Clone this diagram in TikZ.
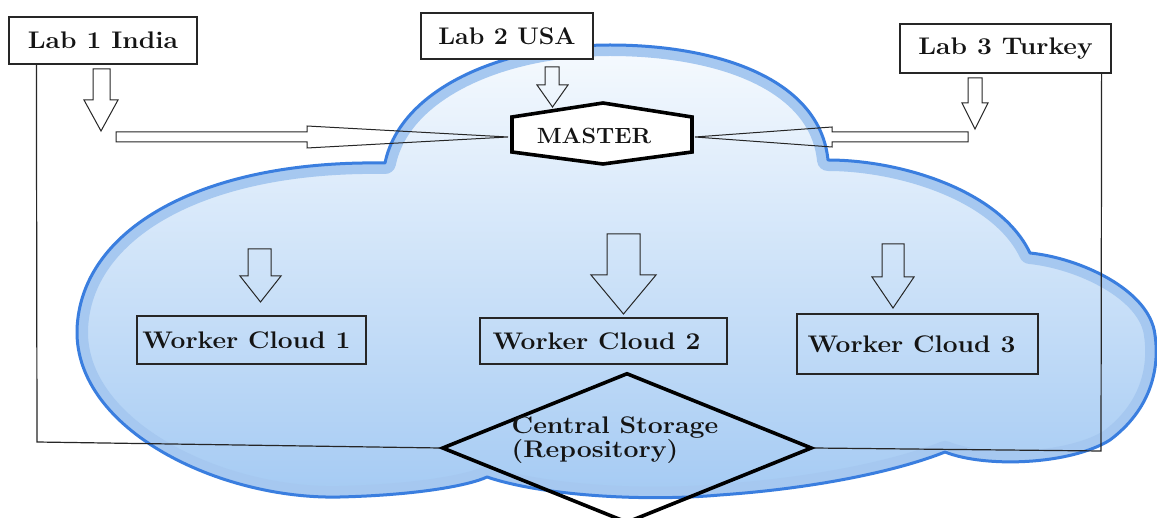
\documentclass[tikz,border=0pt]{standalone}
\usepackage{fontspec}
\usepackage{graphicx}
\usetikzlibrary{shapes.geometric}

\definecolor{cloudedge}{HTML}{3A7EDF}
\definecolor{cloudband}{HTML}{A6C8F0}
\definecolor{cloudtop}{HTML}{F6FAFE}
\definecolor{cloudmid}{HTML}{D3E6F9}
\definecolor{cloudbot}{HTML}{A4CAF3}
\definecolor{ink}{HTML}{141414}
\definecolor{linegray}{HTML}{262626}

% outline of the cloud (pixel-like units, y grows downwards)
\newcommand{\cloudpath}{(385,163)
  .. controls (200,160) and (80,230) .. (77,330)
  .. controls (75,430) and (220,500) .. (340,497)
  .. controls (420,495) and (470,485) .. (487,477)
  .. controls (540,495) and (640,502) .. (720,495)
  .. controls (820,488) and (900,470) .. (945,452)
  .. controls (985,468) and (1070,465) .. (1110,440)
  .. controls (1150,410) and (1160,370) .. (1155,335)
  .. controls (1150,290) and (1080,258) .. (1030,253)
  .. controls (1000,190) and (900,160) .. (828,160)
  .. controls (820,80) and (720,45) .. (610,45)
  .. controls (500,45) and (400,90) .. (385,163) -- cycle}

% hollow block arrow pointing down:
% shaft x-range, shaft top, head base, head x-range, tip y
\newcommand{\blkdown}[7]{%
  \draw[blockarrow] (#1,#3) -- (#2,#3) -- (#2,#4) -- (#6,#4)
    -- ({(#5+#6)/2},#7) -- (#5,#4) -- (#1,#4) -- cycle;}

% wide heavy lettering
\newcommand{\lbl}[2][1.1]{\scalebox{#1}[1]{#2}}

\begin{document}
\begin{tikzpicture}[x=1pt,y=-1pt,
  txt/.style={font=\fontsize{24}{22}\selectfont\bfseries\addfontfeatures{FakeBold=2.5},
              text=ink, inner sep=0pt},
  box/.style={txt, draw=linegray, line width=1.2pt},
  labbox/.style={box, fill=white},
  blockarrow/.style={draw=linegray, line width=1pt, line join=miter},
  link/.style={draw=linegray, line width=1.2pt},
  heavy/.style={draw=black, line width=3.6pt, line join=miter}]

\useasboundingbox (0,0) rectangle (1157,518);
\fill[white] (0,0) rectangle (1157,518);

% cloud body
\shade[top color=cloudtop, middle color=cloudmid, bottom color=cloudbot] \cloudpath;
\begin{scope}
  \clip \cloudpath;
  \draw[cloudband, line width=22pt, line join=round] \cloudpath;
\end{scope}
\draw[cloudedge, line width=3pt, line join=round] \cloudpath;

% labs
\node[labbox, minimum width=188pt, minimum height=47pt] (lab1) at (103,40.5) {\lbl{Lab 1 India}};
\node[labbox, minimum width=172pt, minimum height=46pt] (lab2) at (507,36) {\lbl[1.04]{Lab 2 USA}};
\node[labbox, minimum width=211pt, minimum height=49pt] (lab3) at (1005.5,48.5) {\lbl{Lab 3 Turkey}};

% workers
\node[box, minimum width=229pt, minimum height=48pt] (wc1) at (251.5,340) {\lbl{Worker Cloud 1}\hspace*{10pt}};
\node[box, minimum width=247pt, minimum height=46pt] (wc2) at (603.5,341) {\lbl{Worker Cloud 2}\hspace*{14pt}};
\node[box, minimum width=241pt, minimum height=60pt] (wc3) at (917.5,344) {\lbl{Worker Cloud 3}\hspace*{12pt}};

% storage
\node[heavy, shape=diamond, minimum width=370pt, minimum height=150pt, inner sep=0pt] (store) at (627,448) {};
\node[txt, align=left] (storetext) at (615,440) {\lbl[1.11]{Central Storage}\\\lbl[1.11]{(Repository)}};

% lab links to storage
\coordinate (bendL) at (37,442);
\coordinate (bendR) at (1101,451);
\draw[link] ([xshift=28pt]lab1.south west) -- (bendL) -- (store.west);
\draw[link] ([xshift=-10pt]lab3.south east) -- (bendR) -- (store.east);

% master
\draw[heavy, fill=white] (512,117) -- (603,103) -- (692,117) -- (692,152) -- (603,164) -- (512,152) -- cycle;
\node[txt, minimum width=180pt, minimum height=49pt] (master) at (594,135.5) {\lbl[1.06]{\fontsize{22}{22}\selectfont MASTER}};

% arrows from labs
\blkdown{93}{110}{69}{100}{84}{118}{131}
\blkdown{545}{559}{67}{85}{537}{568}{107}
\blkdown{968}{982}{78}{103}{962}{988}{129}

\draw[blockarrow] (116,132) -- (307,132) -- (307,126) -- (508,137) -- (307,148) -- (307,142) -- (116,142) -- cycle;
\draw[blockarrow] (968,132) -- (832,132) -- (832,127) -- (695,137) -- (832,147) -- (832,142) -- (968,142) -- cycle;

% arrows to workers
\blkdown{248}{271}{249}{276}{240}{281}{302}
\blkdown{607}{640}{234}{275}{591}{656}{314}
\blkdown{882}{904}{244}{277}{872}{914}{308}

\end{tikzpicture}
\end{document}
